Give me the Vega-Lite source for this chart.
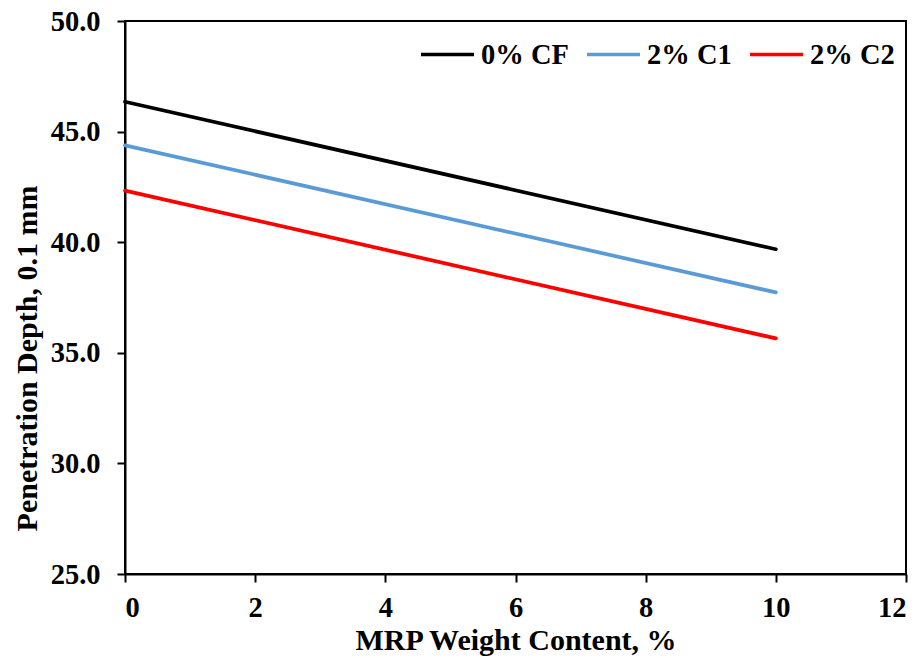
{
  "$schema": "https://vega.github.io/schema/vega-lite/v6.json",
  "width": 781,
  "height": 553,
  "autosize": "none",
  "padding": {"left": 125, "top": 21, "right": 16, "bottom": 84},
  "background": "white",
  "config": {
    "font": "Liberation Serif",
    "view": {"stroke": "black", "strokeWidth": 2},
    "axis": {
      "labelFont": "Liberation Serif", "labelFontWeight": "bold", "labelFontSize": 28.5, "labelColor": "black",
      "titleFont": "Liberation Serif", "titleFontWeight": "bold", "titleFontSize": 30, "titleColor": "black",
      "domainColor": "black", "domainWidth": 2, "tickColor": "black", "tickWidth": 2, "tickSize": 8, "grid": false
    }
  },
  "data": {
    "values": [
      {"series": "0% CF", "x": 0, "y": 46.35},
      {"series": "0% CF", "x": 10, "y": 39.68},
      {"series": "2% C1", "x": 0, "y": 44.38},
      {"series": "2% C1", "x": 10, "y": 37.73},
      {"series": "2% C2", "x": 0, "y": 42.33},
      {"series": "2% C2", "x": 10, "y": 35.65}
    ]
  },
  "mark": {"type": "line", "strokeWidth": 3.75, "strokeCap": "round"},
  "encoding": {
    "x": {
      "field": "x", "type": "quantitative",
      "scale": {"domain": [0, 12], "nice": false},
      "axis": {"values": [0, 2, 4, 6, 8, 10, 12], "title": "MRP Weight Content, %", "labelPadding": 11, "titleBaseline": "alphabetic", "titleY": 75}
    },
    "y": {
      "field": "y", "type": "quantitative",
      "scale": {"domain": [25, 50], "nice": false, "zero": false},
      "axis": {"values": [25, 30, 35, 40, 45, 50], "format": ".1f", "title": "Penetration Depth, 0.1 mm", "labelPadding": 17, "titleBaseline": "alphabetic", "titleX": -89, "titleY": 337}
    },
    "color": {
      "field": "series", "type": "nominal",
      "scale": {"domain": ["0% CF", "2% C1", "2% C2"], "range": ["#000000", "#5B9BD5", "#FF0000"]},
      "legend": {
        "title": null,
        "orient": "none",
        "legendX": 294,
        "legendY": 5,
        "direction": "horizontal",
        "columns": 3,
        "symbolType": "stroke",
        "symbolSize": 2809,
        "symbolStrokeWidth": 3.5,
        "symbolOffset": 0,
        "labelFont": "Liberation Serif",
        "labelFontWeight": "bold",
        "labelFontSize": 28.5,
        "labelColor": "black",
        "labelOffset": 5,
        "columnPadding": 11,
        "padding": 0
      }
    }
  }
}
